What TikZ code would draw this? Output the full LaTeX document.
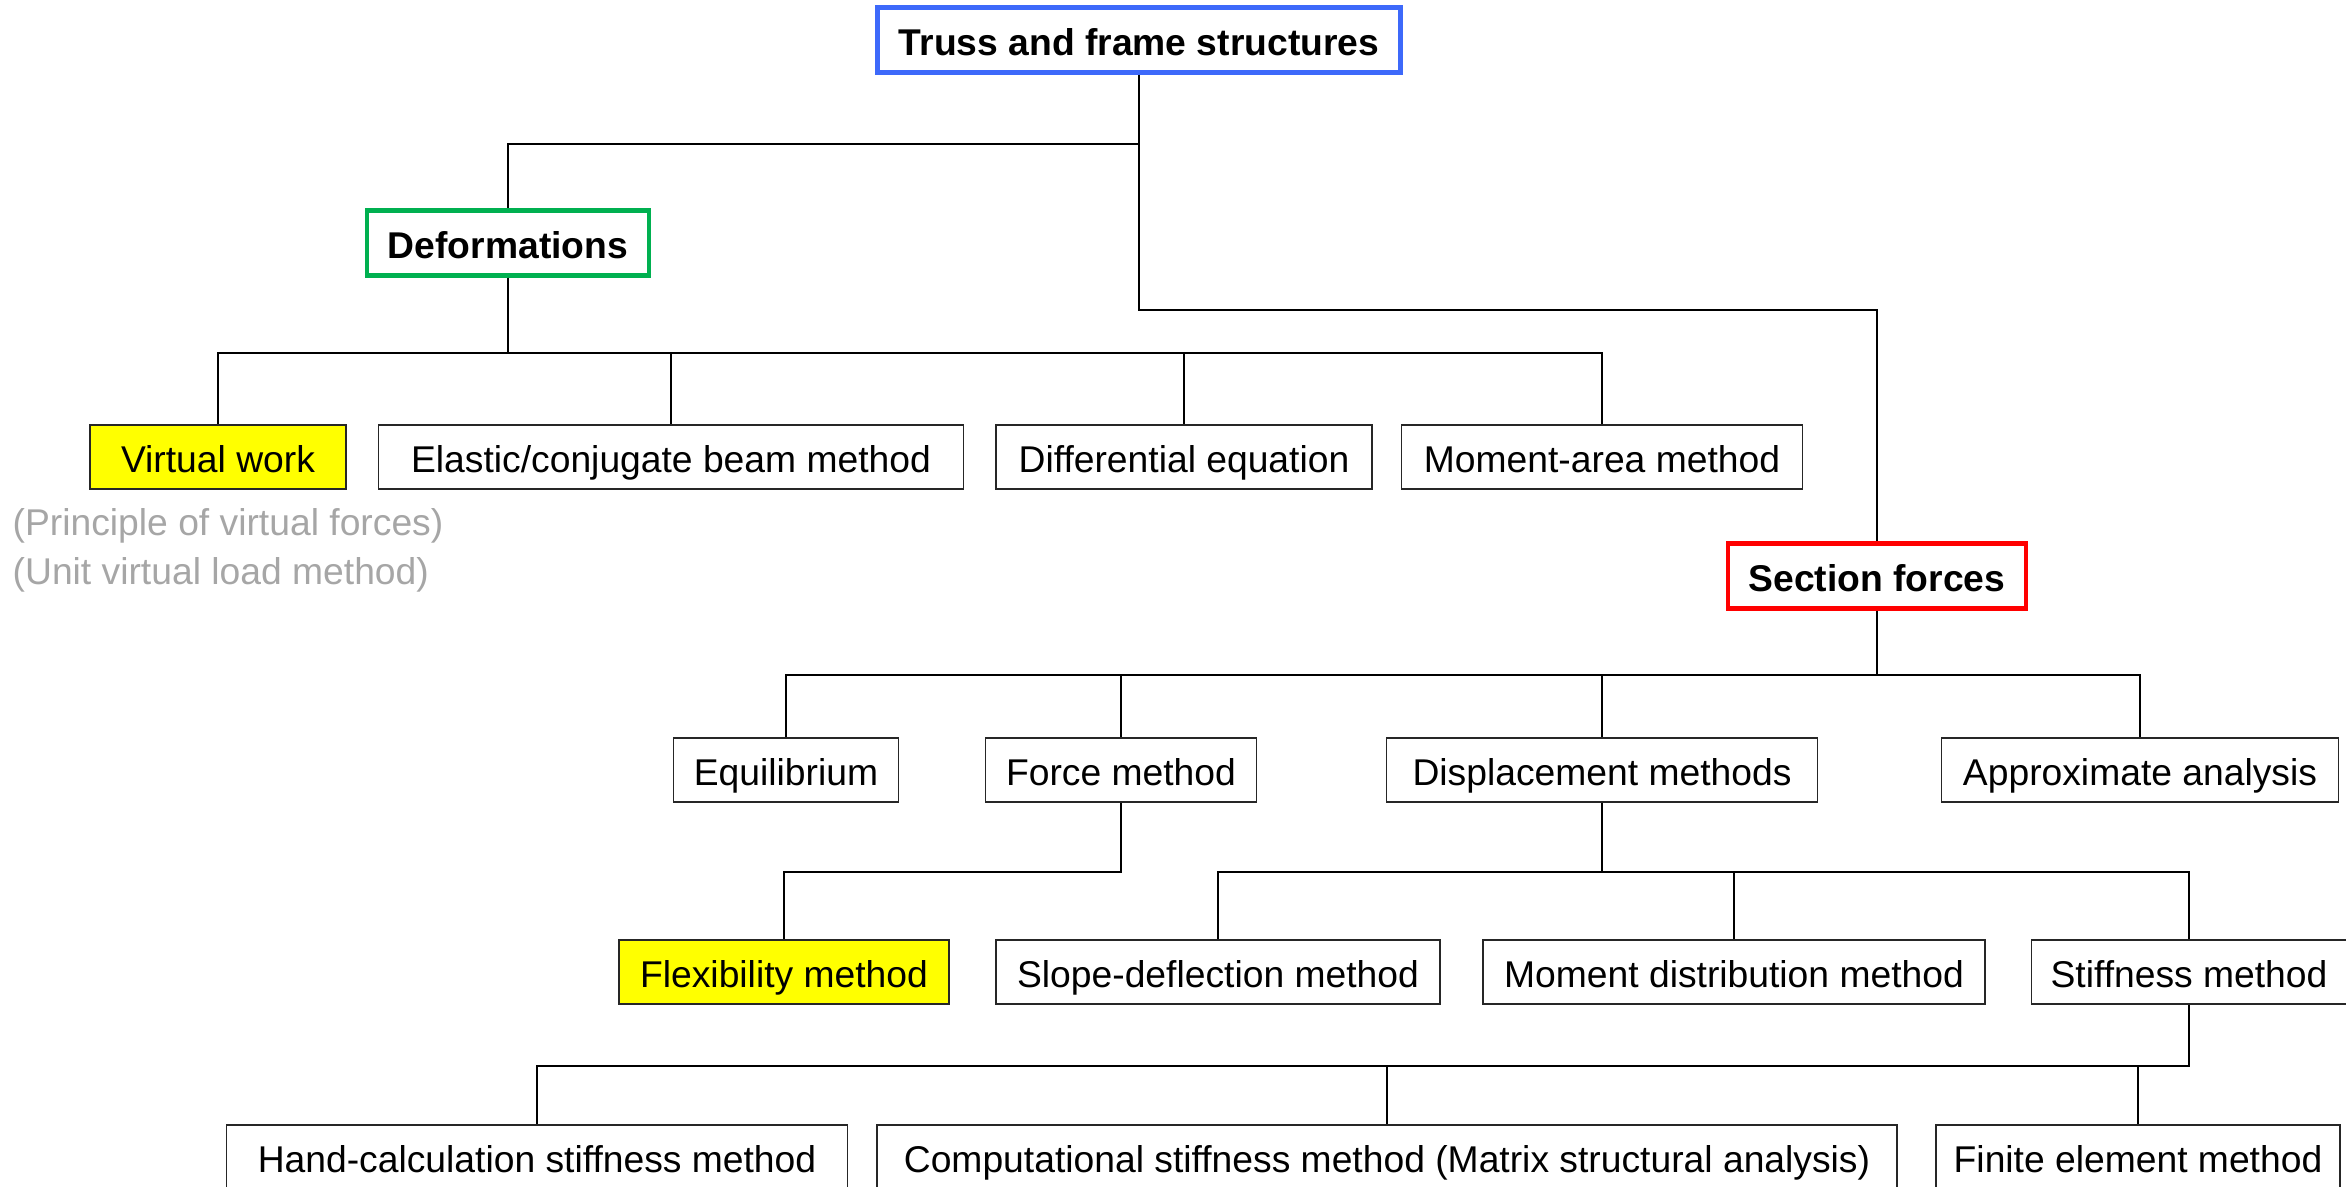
\documentclass[tikz,border=0pt]{standalone}
\usepackage{fontspec}
\setmainfont{Liberation Sans}

\definecolor{topBlue}{RGB}{61,105,250}
\definecolor{defGreen}{RGB}{0,176,80}
\definecolor{secRed}{RGB}{255,0,0}
\definecolor{markYellow}{RGB}{255,255,0}
\definecolor{noteGray}{RGB}{166,166,166}

\begin{document}
\begin{tikzpicture}[
        nodeBox/.style={rectangle, draw=black!85, line width=0.5pt, minimum height=0.64cm, inner xsep=0.1cm, inner ysep=0pt, text height=0.95em, text depth=0.05em, font=\fontsize{10.6}{12}\selectfont},
        nodeHead/.style={nodeBox, line width=1.3pt, minimum height=0.65cm, font=\fontsize{10.6}{12}\selectfont\bfseries},
        nodeTop/.style={nodeHead, draw=topBlue},
        nodeDef/.style={nodeHead, draw=defGreen},
        nodeSec/.style={nodeHead, draw=secRed},
        nodeMark/.style={nodeBox, fill=markYellow},
        nodeNote/.style={anchor=west, inner sep=0pt, text=noteGray, font=\fontsize{10.6}{12}\selectfont},
        link/.style={draw, line width=0.5pt}
        ]
        \useasboundingbox (0,0) rectangle (23.46,-11.87);

        % topo
        \node [nodeTop, minimum width=5.23cm] (truss) at (11.39,-0.40) {Truss and frame structures};
        \node [nodeDef, minimum width=2.82cm] (deform) at (5.08,-2.43) {Deformations};
        \node [nodeSec, minimum width=2.98cm] (secf) at (18.77,-5.76) {Section forces};

        % deformacoes
        \node [nodeMark, minimum width=2.56cm] (vw) at (2.18,-4.57) {Virtual work};
        \node [nodeBox, minimum width=5.85cm] (elastic) at (6.71,-4.57) {Elastic/conjugate beam method};
        \node [nodeBox, minimum width=3.76cm] (diffeq) at (11.84,-4.57) {Differential equation};
        \node [nodeBox, minimum width=4.01cm] (momarea) at (16.02,-4.57) {Moment-area method};
        \node [nodeNote] (note1) at (0.12,-5.26) {(Principle of virtual forces)};
        \node [nodeNote] (note2) at (0.12,-5.75) {(Unit virtual load method)};

        % esforcos
        \node [nodeBox, minimum width=2.25cm] (equil) at (7.86,-7.70) {Equilibrium};
        \node [nodeBox, minimum width=2.71cm] (force) at (11.21,-7.70) {Force method};
        \node [nodeBox, minimum width=4.31cm] (disp) at (16.02,-7.70) {Displacement methods};
        \node [nodeBox, minimum width=3.97cm] (approx) at (21.40,-7.70) {Approximate analysis};

        \node [nodeMark, minimum width=3.30cm] (flex) at (7.84,-9.72) {Flexibility method};
        \node [nodeBox, minimum width=4.44cm] (slope) at (12.18,-9.72) {Slope-deflection method};
        \node [nodeBox, minimum width=5.02cm] (momdist) at (17.34,-9.72) {Moment distribution method};
        \node [nodeBox, minimum width=3.15cm] (stiff) at (21.89,-9.72) {Stiffness method};

        \node [nodeBox, minimum width=6.21cm] (hand) at (5.37,-11.57) {Hand-calculation stiffness method};
        \node [nodeBox, minimum width=10.20cm] (comp) at (13.87,-11.57) {Computational stiffness method (Matrix structural analysis)};
        \node [nodeBox, minimum width=4.04cm] (fem) at (21.38,-11.57) {Finite element method};

        \draw[link] (truss.south) -- ++(0,-0.69) -| (deform.north);
        \draw[link] (truss.south) -- ++(0,-2.35) -| (secf.north);
        \foreach \n in {vw, elastic, diffeq, momarea}
            \draw[link] (deform.south) -- ++(0,-0.75) -| (\n.north);
        \foreach \n in {equil, force, disp, approx}
            \draw[link] (secf.south) -- ++(0,-0.64) -| (\n.north);
        \draw[link] (force.south) -- ++(0,-0.69) -| (flex.north);
        \foreach \n in {slope, momdist, stiff}
            \draw[link] (disp.south) -- ++(0,-0.69) -| (\n.north);
        \foreach \n in {hand, comp, fem}
            \draw[link] (stiff.south) -- ++(0,-0.61) -| (\n.north);
    \end{tikzpicture}
\end{document}
